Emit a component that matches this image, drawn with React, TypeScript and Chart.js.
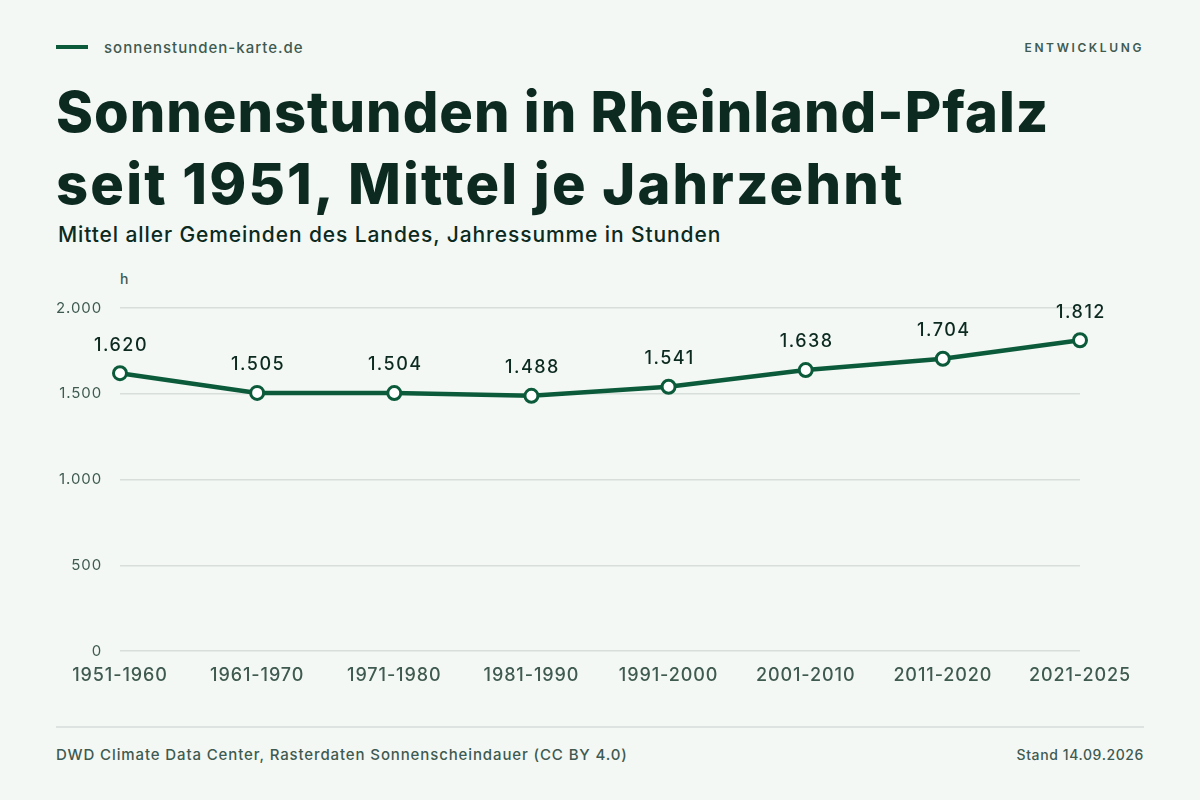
import { useEffect, useRef } from "react";
import Chart from "chart.js/auto";

const decades = [
  "1951-1960",
  "1961-1970",
  "1971-1980",
  "1981-1990",
  "1991-2000",
  "2001-2010",
  "2011-2020",
  "2021-2025",
];
const sunHours = [1620, 1505, 1504, 1488, 1541, 1638, 1704, 1812];
const yTicks = [0, 500, 1000, 1500, 2000];

const BG = "#f3f8f5";
const GREEN = "#0b5b3b";
const DARK = "#0c2a20";
const MUTED = "#3f5a50";
const FONT = "Inter, 'Noto Sans', sans-serif";

// German thousands separator
const fmt = (v: number) => String(v).replace(/\B(?=(\d{3})+(?!\d))/g, ".");

// the reference face is wider than Inter, so open up the canvas text a little
const spacing = {
  id: "spacing",
  beforeDraw(chart: Chart) {
    (chart.ctx as any).letterSpacing = "0.9px";
  },
};

const valueLabels = {
  id: "valueLabels",
  afterDatasetsDraw(chart: Chart) {
    const { ctx } = chart;
    const meta = chart.getDatasetMeta(0);
    ctx.save();
    (ctx as any).letterSpacing = "1.5px";
    ctx.font = `500 18px ${FONT}`;
    ctx.fillStyle = DARK;
    ctx.textAlign = "center";
    ctx.textBaseline = "middle";
    meta.data.forEach((pt, i) => {
      ctx.fillText(fmt(sunHours[i]), pt.x + 1, pt.y - 28);
    });
    ctx.restore();
  },
};

export default function App() {
  const chartRef = useRef<HTMLCanvasElement>(null);
  const chartInstance = useRef<Chart | null>(null);

  useEffect(() => {
    document.body.style.margin = "0";
    if (!chartRef.current) return;
    const ctx = chartRef.current.getContext("2d");
    if (!ctx) return;

    chartInstance.current = new Chart(ctx, {
      type: "line",
      data: {
        labels: decades,
        datasets: [
          {
            data: sunHours,
            borderColor: GREEN,
            borderWidth: 4.5,
            pointRadius: 6.5,
            pointBorderWidth: 3,
            pointBackgroundColor: "#ffffff",
            pointBorderColor: GREEN,
            tension: 0,
            clip: false,
          },
        ],
      },
      options: {
        animation: false,
        responsive: false,
        layout: { padding: { top: 48, right: 120, bottom: 0, left: 0 } },
        plugins: {
          legend: { display: false },
          tooltip: { enabled: false },
        },
        scales: {
          x: {
            grid: { display: false, drawTicks: false },
            border: { display: false },
            ticks: {
              color: MUTED,
              font: { family: FONT, size: 18, weight: 500 },
              padding: 14,
              maxRotation: 0,
            },
            afterFit: (scale: any) => {
              scale.height = 49;
            },
          },
          y: {
            min: 0,
            max: 2000,
            afterBuildTicks: (scale: any) => {
              scale.ticks = yTicks.map((v) => ({ value: v }));
            },
            grid: { color: "#d8dfdb", lineWidth: 1.5, drawTicks: false },
            border: { display: false },
            ticks: {
              color: MUTED,
              font: { family: FONT, size: 15 },
              padding: 18,
              callback: (v: any) => fmt(Number(v)),
            },
            afterFit: (scale: any) => {
              scale.width = 120;
            },
          },
        },
      },
      plugins: [spacing, valueLabels],
    });

    return () => {
      if (chartInstance.current) {
        chartInstance.current.destroy();
      }
    };
  }, []);

  return (
    <div
      style={{
        position: "relative",
        width: 1200,
        height: 800,
        background: BG,
        fontFamily: FONT,
        overflow: "hidden",
      }}
    >
      <div style={{ position: "absolute", left: 56, top: 45, width: 32, height: 4, background: GREEN }} />
      <div
        style={{
          position: "absolute",
          left: 104,
          top: 38,
          fontSize: 15,
          color: MUTED,
          fontWeight: 500,
          letterSpacing: 1,
        }}
      >
        sonnenstunden-karte.de
      </div>
      <div
        style={{
          position: "absolute",
          right: 56,
          top: 40,
          fontSize: 12,
          letterSpacing: 2.6,
          color: MUTED,
          fontWeight: 600,
        }}
      >
        ENTWICKLUNG
      </div>
      <div
        style={{
          position: "absolute",
          left: 56,
          top: 76,
          fontSize: 56,
          lineHeight: "72px",
          fontWeight: 800,
          color: DARK,
          letterSpacing: 1,
        }}
      >
        Sonnenstunden in Rheinland-Pfalz
        <br />
        <span style={{ letterSpacing: 2.2 }}>seit 1951, Mittel je Jahrzehnt</span>
      </div>
      <div
        style={{
          position: "absolute",
          left: 58,
          top: 222,
          fontSize: 21,
          fontWeight: 500,
          color: DARK,
          letterSpacing: 0.9,
        }}
      >
        Mittel aller Gemeinden des Landes, Jahressumme in Stunden
      </div>
      <div style={{ position: "absolute", left: 120, top: 270, fontSize: 14, fontWeight: 500, color: MUTED }}>
        h
      </div>
      <canvas
        ref={chartRef}
        width={1200}
        height={440}
        style={{ position: "absolute", left: 0, top: 260, width: 1200, height: 440 }}
      ></canvas>
      <div style={{ position: "absolute", left: 56, right: 56, top: 726, height: 2, background: "#dde3e0" }} />
      <div
        style={{
          position: "absolute",
          left: 56,
          top: 745,
          fontSize: 15,
          color: MUTED,
          fontWeight: 500,
          letterSpacing: 0.88,
        }}
      >
        DWD Climate Data Center, Rasterdaten Sonnenscheindauer (CC BY 4.0)
      </div>
      <div
        style={{
          position: "absolute",
          right: 56,
          top: 746,
          fontSize: 14,
          color: MUTED,
          fontWeight: 500,
          letterSpacing: 0.6,
        }}
      >
        Stand 14.09.2026
      </div>
    </div>
  );
}
